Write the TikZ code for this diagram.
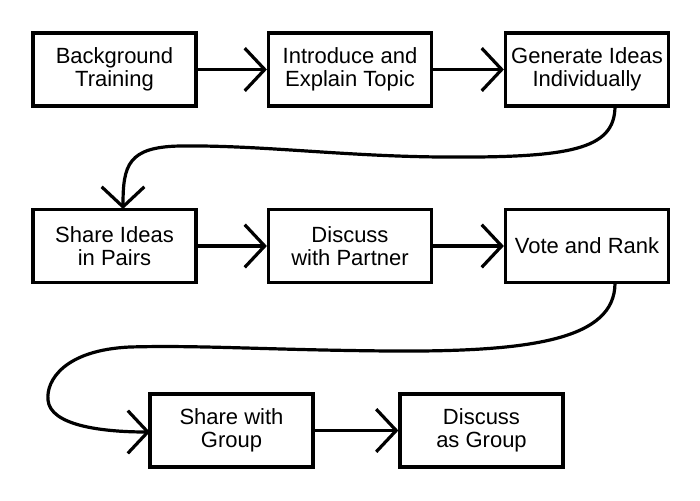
\documentclass[tikz,border=0pt]{standalone}
\usepackage{fontspec}
\setmainfont{Liberation Sans}
\usetikzlibrary{arrows.meta}
\begin{document}
\begin{tikzpicture}[x=0.75pt,y=-0.75pt,
  stepbox/.style={draw=black,line width=2.4pt,fill=white,minimum width=163*0.75pt,minimum height=73*0.75pt,inner sep=0pt,align=center,font=\fontsize{16.5}{17}\selectfont},
  flow/.style={line width=2.4pt,-{Straight Barb[length=15pt,width=32pt,line width=2.4pt]}}]
\useasboundingbox (0,0) rectangle (700,500);
\node[stepbox] (b1) at (114.5,69.5) {Background\\Training};
\node[stepbox] (b2) at (350,69.5) {Introduce and\\Explain Topic};
\node[stepbox] (b3) at (587,69.5) {Generate Ideas\\Individually};
\node[stepbox] (b4) at (114.5,246) {Share Ideas\\in Pairs};
\node[stepbox] (b5) at (350,246) {Discuss\\with Partner};
\node[stepbox] (b6) at (587,246) {Vote and Rank};
\node[stepbox] (b7) at (231.5,430.5) {Share with\\Group};
\node[stepbox] (b8) at (481.5,430.5) {Discuss\\as Group};
\draw[flow] (b1) -- (b2);
\draw[flow] (b2) -- (b3);
\draw[flow] (b4) -- (b5);
\draw[flow] (b5) -- (b6);
\draw[flow] (b7) -- (b8);
\coordinate (c1s) at (615,106);
\coordinate (c1e) at (123,209);
\draw[flow] (c1s) .. controls (615,150) and (570,158) .. (440,157)
  .. controls (340,156) and (260,145) .. (180,146)
  .. controls (128,147) and (123,165) .. (c1e);
\coordinate (c2s) at (615,283);
\coordinate (c2e) at (150,432);
\draw[flow] (c2s) .. controls (615,340) and (530,352) .. (390,351)
  .. controls (270,350) and (200,345) .. (130,347)
  .. controls (65,350) and (46,380) .. (48,400)
  .. controls (50,425) and (100,432) .. (c2e);
\end{tikzpicture}
\end{document}
